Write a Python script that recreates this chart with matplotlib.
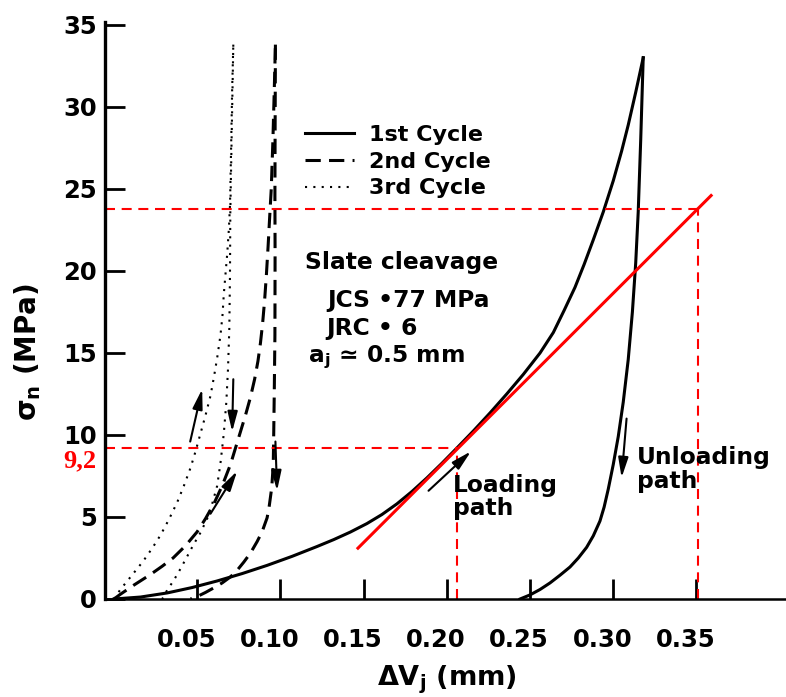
import matplotlib
matplotlib.use('Agg')
import matplotlib.pyplot as plt
from matplotlib.transforms import ScaledTranslation

plt.rcParams['font.family'] = 'DejaVu Sans'
plt.rcParams['font.weight'] = 'bold'
plt.rcParams['mathtext.fontset'] = 'dejavusans'
plt.rcParams['mathtext.default'] = 'regular'

# 1st cycle (solid): dV (mm), sigma_n (MPa)
c1_load_x = [0.000, 0.016, 0.032, 0.047, 0.062, 0.077, 0.092, 0.107, 0.122, 0.132,
             0.142, 0.152, 0.161, 0.170, 0.179, 0.188, 0.197, 0.206, 0.216, 0.226,
             0.236, 0.246, 0.256, 0.264, 0.2705, 0.277, 0.2825, 0.288, 0.294, 0.300,
             0.305, 0.309, 0.3135, 0.318]
c1_load_y = [0.0, 0.12, 0.37, 0.7, 1.1, 1.55, 2.05, 2.6, 3.2, 3.62,
             4.08, 4.6, 5.15, 5.8, 6.55, 7.38, 8.27, 9.2, 10.25, 11.35,
             12.5, 13.7, 15.0, 16.25, 17.6, 19.0, 20.4, 21.9, 23.6, 25.5,
             27.3, 28.9, 30.9, 33.0]
c1_unload_x = [0.318, 0.3165, 0.315, 0.3135, 0.3115, 0.309, 0.306, 0.303, 0.300,
               0.297, 0.2945, 0.292, 0.288, 0.284, 0.279, 0.274, 0.268, 0.262,
               0.256, 0.250, 0.244]
c1_unload_y = [33.0, 28.0, 23.6, 20.5, 17.5, 14.6, 12.0, 9.9, 8.2,
               6.7, 5.6, 4.75, 3.85, 3.15, 2.5, 1.95, 1.45, 0.98,
               0.58, 0.25, 0.0]

# 2nd cycle (dashed)
c2_load_x = [0.000, 0.004, 0.012, 0.022, 0.029, 0.0355, 0.043, 0.050, 0.055, 0.060,
             0.065, 0.070, 0.073, 0.076, 0.079, 0.082, 0.0845, 0.0865, 0.088, 0.0893,
             0.0905, 0.0916, 0.0926, 0.0935, 0.0945, 0.0955, 0.0963, 0.097]
c2_load_y = [0.0, 0.3, 0.85, 1.5, 2.0, 2.5, 3.25, 4.1, 4.9, 5.8,
             6.9, 8.2, 9.2, 10.2, 11.2, 12.3, 13.4, 14.5, 15.6, 16.8,
             18.2, 19.8, 21.5, 23.2, 25.0, 28.0, 31.0, 33.8]
c2_unload_x = [0.097, 0.0968, 0.0967, 0.0968, 0.0967, 0.0963, 0.096, 0.0957, 0.0948,
               0.0932, 0.092, 0.089, 0.086, 0.082, 0.078, 0.074, 0.070, 0.065,
               0.060, 0.055, 0.050, 0.046]
c2_unload_y = [33.8, 28.0, 24.6, 21.0, 16.1, 12.5, 10.2, 8.2, 6.8,
               5.6, 4.95, 4.1, 3.5, 2.8, 2.25, 1.75, 1.35, 0.98,
               0.68, 0.4, 0.15, 0.0]

# 3rd cycle (dotted)
c3_load_x = [0.000, 0.004, 0.010, 0.0175, 0.023, 0.028, 0.033, 0.038, 0.042, 0.046,
             0.049, 0.052, 0.055, 0.058, 0.060, 0.062, 0.064, 0.0652, 0.066, 0.067,
             0.068, 0.069, 0.0697, 0.0703, 0.071, 0.0717]
c3_load_y = [0.0, 0.6, 1.35, 2.3, 3.1, 3.9, 4.85, 5.9, 6.9, 8.0,
             9.0, 10.1, 11.2, 12.4, 13.5, 14.7, 16.1, 17.3, 18.6, 19.8,
             21.0, 22.5, 24.0, 27.1, 31.1, 33.8]
c3_unload_x = [0.0717, 0.0705, 0.0699, 0.0697, 0.0693, 0.0685, 0.0675, 0.066, 0.064,
               0.062, 0.059, 0.056, 0.052, 0.0477, 0.044, 0.040, 0.036, 0.032, 0.029]
c3_unload_y = [33.8, 27.0, 23.6, 19.8, 16.5, 14.0, 12.0, 10.1, 8.3,
               6.9, 5.8, 4.9, 4.05, 3.3, 2.6, 1.85, 1.15, 0.55, 0.0]

# red construction lines
sigma_low = 9.2
dv_low = 0.206
sigma_high = 23.8
dv_high = 0.351
tangent_x = [0.1466, 0.3588]
tangent_y = [3.1, 24.6]

# direction arrows: (tail, head)
arrows = [((0.0458, 9.6), (0.053, 12.8)),
          ((0.0717, 13.4), (0.071, 10.2)),
          ((0.058, 5.2), (0.074, 7.8)),
          ((0.097, 9.6), (0.098, 6.6)),
          ((0.189, 6.6), (0.2145, 9.0)),
          ((0.308, 11.0), (0.305, 7.4))]

xticks = [0.05, 0.10, 0.15, 0.20, 0.25, 0.30, 0.35]
xticklabels = ['0.05', '0.10', '0.15', '0.20', '0.25', '0.30', '0.35']
yticks = [0, 5, 10, 15, 20, 25, 30, 35]

fig = plt.figure(figsize=(7.86, 6.97), dpi=100)
ax = fig.add_axes([105 / 786, 98 / 697, 681 / 786, 577 / 697])
x0, x1 = -0.0054, 0.4038
ax.set_xlim(x0, x1)
ax.set_ylim(0, 35.18)

lw = 2.2
l1, = ax.plot(c1_load_x, c1_load_y, color='black', lw=lw, solid_joinstyle='round')
ax.plot(c1_unload_x, c1_unload_y, color='black', lw=lw, solid_joinstyle='round')
l2, = ax.plot(c2_load_x, c2_load_y, color='black', lw=lw, linestyle=(0, (5, 2.7)))
ax.plot(c2_unload_x, c2_unload_y, color='black', lw=lw, linestyle=(0, (5, 2.7)))
l3, = ax.plot(c3_load_x, c3_load_y, color='black', lw=1.5, linestyle=(0, (1, 3)))
ax.plot(c3_unload_x, c3_unload_y, color='black', lw=1.5, linestyle=(0, (1, 3)))

# red lines
red_dash = (0, (4.8, 3.2))
ax.plot([x0, dv_low], [sigma_low, sigma_low], color='red', lw=1.5, linestyle=red_dash)
ax.plot([dv_low, dv_low], [0, sigma_low], color='red', lw=1.5, linestyle=red_dash)
ax.plot([x0, dv_high], [sigma_high, sigma_high], color='red', lw=1.5, linestyle=red_dash)
ax.plot([dv_high, dv_high], [0, sigma_high], color='red', lw=1.5, linestyle=red_dash)
ax.plot(tangent_x, tangent_y, color='red', lw=2.2)

for tail, head in arrows:
    ax.annotate('', xy=head, xytext=tail,
                arrowprops=dict(arrowstyle='-|>,head_length=1.0,head_width=0.25',
                                color='black', lw=1.5, shrinkA=0, shrinkB=0,
                                mutation_scale=12))

# axes styling
for s in ['top', 'right']:
    ax.spines[s].set_visible(False)
ax.spines['left'].set_linewidth(2.4)
ax.spines['bottom'].set_linewidth(1.8)
ax.set_xticks(xticks)
ax.set_xticklabels(xticklabels)
ax.set_yticks(yticks)
ax.tick_params(axis='both', direction='in', length=14.5, width=2, labelsize=17.5)
ax.tick_params(axis='x', pad=21)
ax.tick_params(axis='y', pad=6)
shift = ScaledTranslation(-11 / 100, 0, fig.dpi_scale_trans)
for lab in ax.get_xticklabels():
    lab.set_transform(lab.get_transform() + shift)

fig.text(28 / 786, 1 - 352 / 697, r'$\sigma_n$ (MPa)', rotation=90,
         ha='center', va='center', fontsize=20)
fig.text(447 / 786, 1 - 685 / 697, r'$\Delta V_j$ (mm)',
         ha='center', va='baseline', fontsize=19.5)

ax.text(-0.0108, 8.4, '9,2', color='red', fontsize=19, fontweight='bold',
        family='Liberation Serif', ha='right', va='center', clip_on=False)

# legend
ax.legend([l1, l2, l3], ['1st Cycle', '2nd Cycle', '3rd Cycle'],
          loc='upper left', bbox_to_anchor=(305 / 786, 1 - 125 / 697),
          bbox_transform=fig.transFigure, frameon=False, fontsize=16,
          handlelength=2.2, handletextpad=0.68, borderpad=0, borderaxespad=0,
          labelspacing=0.3)

# annotations
fs = 16.8
ax.text(0.1148, 20.5, 'Slate cleavage', fontsize=fs, ha='left', va='center')
ax.text(0.128, 18.2, 'JCS \u202277 MPa', fontsize=fs, ha='left', va='center')
ax.text(0.1274, 16.5, 'JRC \u2022 6', fontsize=fs, ha='left', va='center')
ax.text(0.1166, 14.75, r'a$_j$ ≃ 0.5 mm', fontsize=fs, ha='left', va='center')
ax.text(0.2037, 7.65, 'Loading\npath', fontsize=fs, ha='left', va='top', linespacing=1.05)
ax.text(0.3143, 9.35, 'Unloading\npath', fontsize=fs, ha='left', va='top', linespacing=1.05)

fig.savefig('out.png', dpi=100)
